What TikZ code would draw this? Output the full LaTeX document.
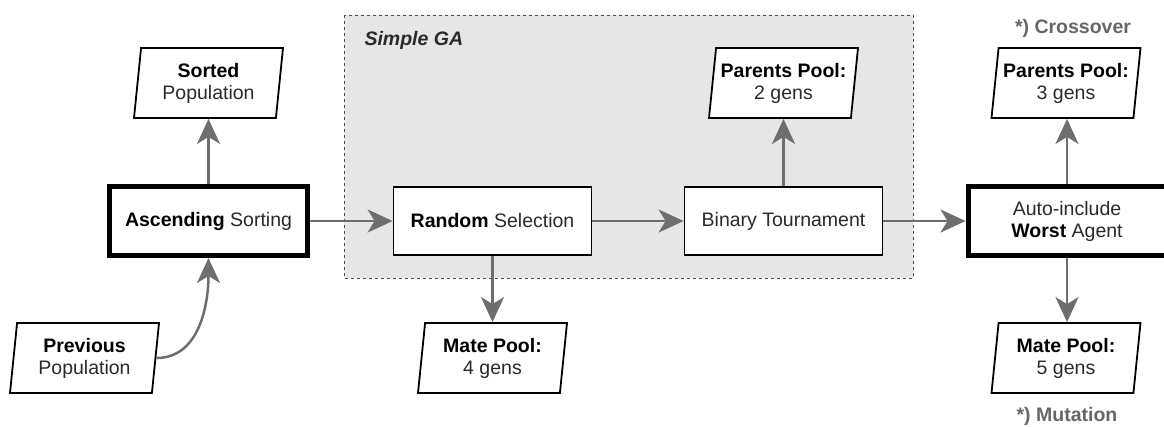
\documentclass[tikz,border=0pt]{standalone}
\usepackage{fontspec}
\setmainfont{Liberation Sans}
\usepackage{tikz}
\usetikzlibrary{arrows.meta,shapes.geometric}

\definecolor{arrowgray}{HTML}{6E6E6E}
\definecolor{gafill}{HTML}{E6E6E6}
\definecolor{notegray}{HTML}{666666}
\definecolor{txtgray}{HTML}{2A2A2A}

\tikzset{
  stepbox/.style={draw=black,fill=white,line width=1.8pt,minimum width=198pt,
    minimum height=68pt,align=center,text=txtgray,inner sep=2pt},
  mainbox/.style={stepbox,line width=5pt,minimum height=69pt},
  datapar/.style={draw=black,fill=white,line width=1.8pt,shape=trapezium,
    trapezium left angle=80,trapezium right angle=100,trapezium stretches body,
    minimum width=149pt,minimum height=70pt,align=center,text=txtgray,inner sep=0pt},
  flow/.style={draw=arrowgray,line width=2.5pt,
    -{Stealth[length=25pt,width=23pt,inset=7pt]}},
  note/.style={text=notegray,font=\fontsize{19.5}{22}\selectfont\bfseries}
}

\begin{document}
\begin{tikzpicture}[x=1pt,y=-1pt,font=\fontsize{19.5}{22}\selectfont]
\useasboundingbox (0,0) rectangle (1164,426);
% simple GA region
\draw[fill=gafill,draw=black!70,dashed,line width=1pt] (344,15) rectangle (913,278);
\node[anchor=west,text=txtgray] (galabel) at (361,40) {\bfseries\itshape Simple GA};
% steps
\node[mainbox] (asc) at (208.5,221) {\textbf{\color{black}Ascending} Sorting};
\node[stepbox] (rand) at (492.5,221) {\textbf{\color{black}Random} Selection};
\node[stepbox] (bin) at (783.5,221) {Binary Tournament};
\node[mainbox] (auto) at (1067,221) {Auto-include\\\textbf{\color{black}Worst} Agent};
% pools
\node[datapar] (sorted) at (208.5,83) {\textbf{\color{black}Sorted}\\Population};
\node[datapar] (prev) at (84.5,358) {\textbf{\color{black}Previous}\\Population};
\node[datapar] (par2) at (783.5,83) {\textbf{\color{black}Parents Pool:}\\2 gens};
\node[datapar] (mate4) at (492.5,358) {\textbf{\color{black}Mate Pool:}\\4 gens};
\node[datapar] (par3) at (1066,83) {\textbf{\color{black}Parents Pool:}\\3 gens};
\node[datapar] (mate5) at (1066,358) {\textbf{\color{black}Mate Pool:}\\5 gens};
% notes
\node[note] (cross) at (1073,28) {*) Crossover};
\node[note] (mut) at (1067,416) {*) Mutation};
% arrows
\draw[flow] (prev.east) to[out=0,in=-90] (asc.south);
\draw[flow] (asc) -- (sorted);
\draw[flow] (asc) -- (rand);
\draw[flow] (rand) -- (bin);
\draw[flow] (rand) -- (mate4);
\draw[flow] (bin) -- (par2);
\draw[flow] (bin) -- (auto);
\draw[flow] (auto.north) -- (auto.north |- par3.south);
\draw[flow] (auto.south) -- (auto.south |- mate5.north);
\end{tikzpicture}
\end{document}
